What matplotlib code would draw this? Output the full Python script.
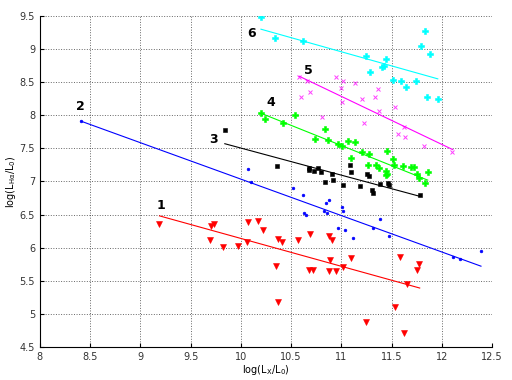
import matplotlib
matplotlib.use("Agg")
import matplotlib.pyplot as plt
import numpy as np

plt.rcParams['mathtext.default'] = 'regular'

# ---- data ----
s1_x = [9.19, 9.69, 9.70, 9.73, 9.82, 9.97, 10.06, 10.07, 10.17, 10.22, 10.37, 10.41, 10.35, 10.37,
        10.57, 10.69, 10.68, 10.72, 10.88, 10.91, 10.89, 10.88, 10.95, 11.02, 11.10, 11.25, 11.53,
        11.58, 11.62, 11.65, 11.75, 11.77]
s1_y = [6.36, 6.12, 6.33, 6.36, 6.01, 6.02, 6.09, 6.38, 6.40, 6.26, 6.13, 6.09, 5.73, 5.18,
        6.12, 6.20, 5.66, 5.66, 6.18, 6.12, 5.81, 5.65, 5.65, 5.71, 5.84, 4.88, 5.10,
        5.86, 4.71, 5.45, 5.66, 5.75]

s2_x = [8.41, 10.07, 10.10, 10.52, 10.62, 10.88, 10.85, 10.63, 10.65, 10.83, 10.86, 11.01, 11.02,
        10.97, 11.04, 11.12, 11.32, 11.38, 11.47, 12.11, 12.18, 12.39]
s2_y = [7.92, 7.19, 6.99, 6.90, 6.79, 6.72, 6.67, 6.53, 6.49, 6.56, 6.53, 6.61, 6.55,
        6.29, 6.27, 6.14, 6.30, 6.44, 6.18, 5.86, 5.83, 5.95]

s3_x = [9.84, 10.36, 10.68, 10.68, 10.73, 10.77, 10.80, 10.91, 10.92, 10.84, 11.02, 11.09, 11.10,
        11.19, 11.26, 11.28, 11.31, 11.32, 11.38, 11.46, 11.47, 11.78]
s3_y = [7.77, 7.23, 7.21, 7.17, 7.16, 7.21, 7.15, 7.11, 7.02, 6.99, 6.95, 7.25, 7.14,
        6.93, 7.12, 7.08, 6.87, 6.83, 6.96, 6.97, 6.94, 6.80]

s4_x = [10.20, 10.24, 10.42, 10.54, 10.84, 10.74, 10.87, 10.97, 11.01, 11.07, 11.14, 11.21, 11.28,
        11.10, 11.45, 11.27, 11.35, 11.37, 11.44, 11.45, 11.44, 11.51, 11.52, 11.61, 11.69, 11.72,
        11.75, 11.77, 11.86, 11.83]
s4_y = [8.04, 7.94, 7.88, 8.00, 7.79, 7.64, 7.62, 7.56, 7.54, 7.61, 7.60, 7.45, 7.42,
        7.36, 7.46, 7.25, 7.25, 7.21, 7.16, 7.12, 7.09, 7.34, 7.25, 7.24, 7.22, 7.22,
        7.12, 7.05, 7.14, 6.97]

s5_x = [10.58, 10.66, 10.69, 10.60, 10.81, 10.95, 11.02, 11.00, 11.01, 11.14, 11.21, 11.23, 11.36,
        11.34, 11.37, 11.53, 11.62, 11.56, 11.63, 11.82, 12.10]
s5_y = [8.58, 8.51, 8.35, 8.28, 7.98, 8.58, 8.52, 8.41, 8.20, 8.49, 8.24, 7.89, 8.40,
        8.28, 8.06, 8.13, 7.82, 7.71, 7.67, 7.53, 7.44]

s6_x = [10.20, 10.34, 10.62, 11.25, 11.29, 11.44, 11.40, 11.42, 11.51, 11.59, 11.64, 11.74, 11.83,
        11.79, 11.88, 11.85, 11.96]
s6_y = [9.49, 9.16, 9.12, 8.89, 8.66, 8.85, 8.73, 8.75, 8.54, 8.52, 8.43, 8.52, 9.28,
        9.05, 8.93, 8.27, 8.25]

# fitted lines: start/end x and y
fit_x0 = [9.19, 8.41, 9.84, 10.20, 10.58, 10.20]
fit_x1 = [11.78, 12.39, 11.77, 11.86, 12.11, 11.96]
fit_y0 = [6.48, 7.91, 7.57, 8.03, 8.59, 9.30]
fit_y1 = [5.39, 5.72, 6.78, 7.02, 7.48, 8.55]

labels = ['1', '2', '3', '4', '5', '6']
label_x = [9.20, 8.40, 9.73, 10.30, 10.67, 10.11]
label_y = [6.64, 8.13, 7.64, 8.19, 8.68, 9.23]

xs = [s1_x, s2_x, s3_x, s4_x, s5_x, s6_x]
ys = [s1_y, s2_y, s3_y, s4_y, s5_y, s6_y]
colors = ['#ff0000', '#0000ff', '#000000', '#00ff00', '#ff00ff', '#00ffff']
markers = ['v', '.', 's', 'P', 'x', 'P']
msizes = [4.5, 4, 3.5, 4.5, 3.5, 4.5]

fig = plt.figure(figsize=(5.12, 3.8), dpi=100)
ax = fig.add_axes([0.078, 0.087, 0.883, 0.871])

for i in range(6):
    ax.plot(xs[i], ys[i], linestyle='none', marker=markers[i], color=colors[i],
            markersize=msizes[i], markeredgewidth=0.7 if markers[i] == 'x' else 0.4,
            alpha=0.75 if markers[i] == 'x' else 1.0)
    ax.plot([fit_x0[i], fit_x1[i]], [fit_y0[i], fit_y1[i]], color=colors[i], linewidth=0.8)
    ax.text(label_x[i], label_y[i], labels[i], fontsize=9, fontweight='bold',
            ha='center', va='center', color='black')

ax.set_xlim(8, 12.5)
ax.set_ylim(4.5, 9.5)
ax.set_xticks(np.arange(8, 12.51, 0.5))
ax.set_yticks(np.arange(4.5, 9.51, 0.5))
ax.set_xticklabels(['8', '8.5', '9', '9.5', '10', '10.5', '11', '11.5', '12', '12.5'])
ax.set_yticklabels(['4.5', '5', '5.5', '6', '6.5', '7', '7.5', '8', '8.5', '9', '9.5'])
ax.grid(True, linestyle=':', color='black', linewidth=0.7, alpha=0.6)
ax.tick_params(direction='in', labelsize=7, length=3, labelcolor='#333333')
ax.spines['top'].set_visible(False)
ax.spines['right'].set_visible(False)
ax.set_xlabel('log(L$_X$/L$_0$)', fontsize=7, labelpad=1)
ax.set_ylabel('log(L$_{H\\alpha}$/L$_0$)', fontsize=7, labelpad=1)

fig.savefig('out.png', dpi=100)
